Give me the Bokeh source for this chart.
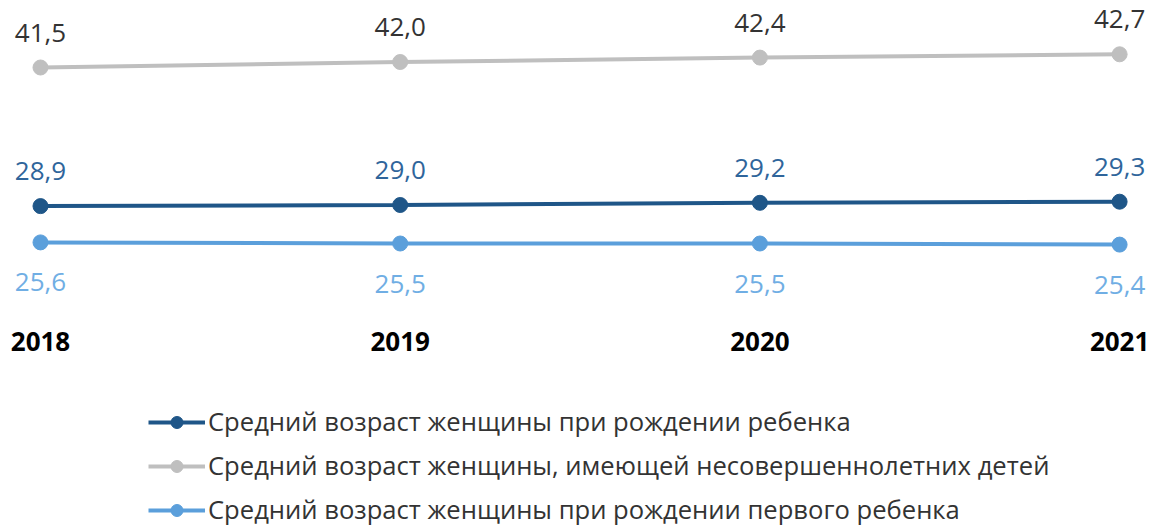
from bokeh.plotting import figure
from bokeh.models import ColumnDataSource, Legend, LegendItem, Range1d
from bokeh.core.properties import value
from bokeh.embed import file_html
from bokeh.resources import INLINE

years = [2018, 2019, 2020, 2021]
year_labels = ["2018", "2019", "2020", "2021"]
series_names = [
    "Средний возраст женщины при рождении ребенка",
    "Средний возраст женщины, имеющей несовершеннолетних детей",
    "Средний возраст женщины при рождении первого ребенка",
]
birth_any = [28.9, 29.0, 29.2, 29.3]
minors = [41.5, 42.0, 42.4, 42.7]
birth_first = [25.6, 25.5, 25.5, 25.4]

DARK = "#1f5688"
GREY = "#bfbfbf"
LIGHT = "#5b9fdb"
FONT = "Open Sans"

W, H = 1149, 526
p = figure(width=W, height=H, output_backend="svg", toolbar_location=None,
           min_border=0, x_range=Range1d(2017.8888, 2021.0831),
           y_range=Range1d(-0.227, 47.591))
p.axis.visible = False
p.grid.visible = False
p.outline_line_color = None
p.background_fill_color = "white"
p.border_fill_color = "white"

def fmt(v):
    return f"{v:.1f}".replace(".", ",")

items = []
specs = [
    (birth_any, DARK, "#2f659b", 35),
    (minors, GREY, "#333333", 35),
    (birth_first, LIGHT, "#70aee4", -40),
]
for name, (vals, col, lcol, off) in zip(series_names, specs):
    src = ColumnDataSource(dict(x=years, y=vals, t=[fmt(v) for v in vals]))
    ln = p.line("x", "y", source=src, line_color=col, line_width=4)
    cr = p.scatter("x", "y", source=src, size=15, fill_color=col, line_color=col)
    p.text("x", "y", text="t", source=src, text_font=value(FONT),
           text_font_size="26px", text_color=lcol, text_align="center",
           text_baseline="middle", y_offset=-off)
    items.append((name, ln, cr))

# year labels
ysrc = ColumnDataSource(dict(x=years, y=[0.0] * 4, t=year_labels))
p.text("x", "y", text="t", source=ysrc, text_font=value(FONT),
       text_font_size="26px", text_font_style="bold", text_color="#000000",
       text_align="center", text_baseline="middle", y_offset=-183)

legend_items = [LegendItem(label=n, renderers=[l, c]) for n, l, c in items]
legend = Legend(items=legend_items, location=(148, -1), orientation="vertical",
                label_text_font=FONT, label_text_font_size="25.6px",
                label_text_color="#333333", glyph_width=57, glyph_height=30,
                label_standoff=3, spacing=9, padding=0, margin=0,
                border_line_color=None, background_fill_alpha=0)
p.add_layout(legend, "center")

open("out.html", "w").write(file_html(p, INLINE))
